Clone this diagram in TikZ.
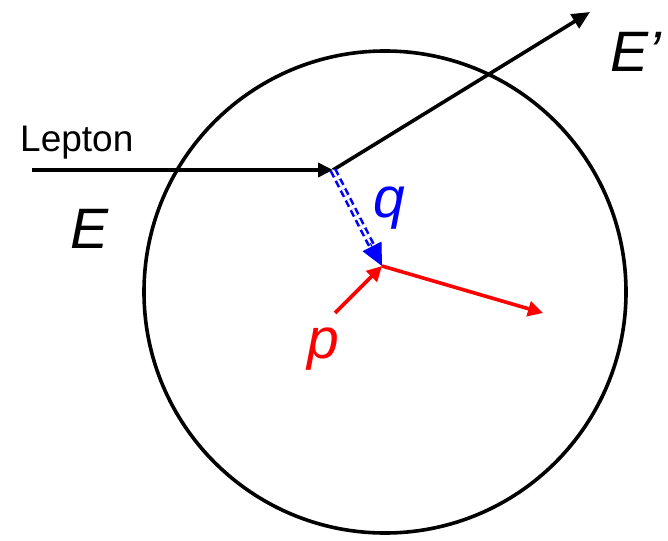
\documentclass[tikz,border=0pt]{standalone}
\usepackage{fontspec}
\setmainfont{Liberation Sans}
\usepackage{tikz}
\usetikzlibrary{arrows.meta,calc}
\definecolor{ink}{HTML}{000000}
\definecolor{qblue}{HTML}{0000FF}
\definecolor{pred}{HTML}{FF0000}

\tikzset{
  leg/.style={line width=3.6pt,ink,-{Triangle[length=15pt,width=14pt]}},
  hadron/.style={line width=3.6pt,pred,-{Triangle[length=15pt,width=15pt]}},
  label/.style={anchor=base west,inner sep=0pt,font=\fontsize{57}{60}\selectfont\itshape}
}

\begin{document}
\begin{tikzpicture}[x=1pt,y=-1pt]
  \useasboundingbox (0,0) rectangle (668,540);
  \draw[ink,line width=3.6pt] (385,292) circle (241);
  \coordinate (in) at (32,170);
  \coordinate (vtx) at (333,170);
  \coordinate (out) at (590,12);
  \coordinate (hit) at (382,266);
  \coordinate (pin) at (335,313);
  \coordinate (pout) at (543,313);
  \draw[leg] (in) -- (vtx);
  \draw[leg,-{Triangle[length=18pt,width=16pt]}] (vtx) -- (out);
  % virtual photon
  \draw[qblue,line width=2.6pt,double=white,double distance=2.2pt,dash pattern=on 7pt off 4pt] (vtx) -- ($(vtx)!0.8!(hit)$);
  \draw[qblue,line width=1pt,-{Triangle[length=22pt,width=21pt]}] ($(vtx)!0.76!(hit)$) -- (hit);
  \draw[hadron] (pin) -- (hit);
  \draw[hadron] (hit) -- (pout);
  \node[anchor=base west,inner sep=0pt,font=\fontsize{37}{40}\selectfont] (lepton) at (20,152) {Lepton};
  \node[label] (e) at (70,248) {E};
  \node[label] (eprime) at (610,72) {E’};
  \node[label,text=qblue] (q) at (373,217) {q};
  \node[label,text=pred] (p) at (307,358) {p};
\end{tikzpicture}
\end{document}
